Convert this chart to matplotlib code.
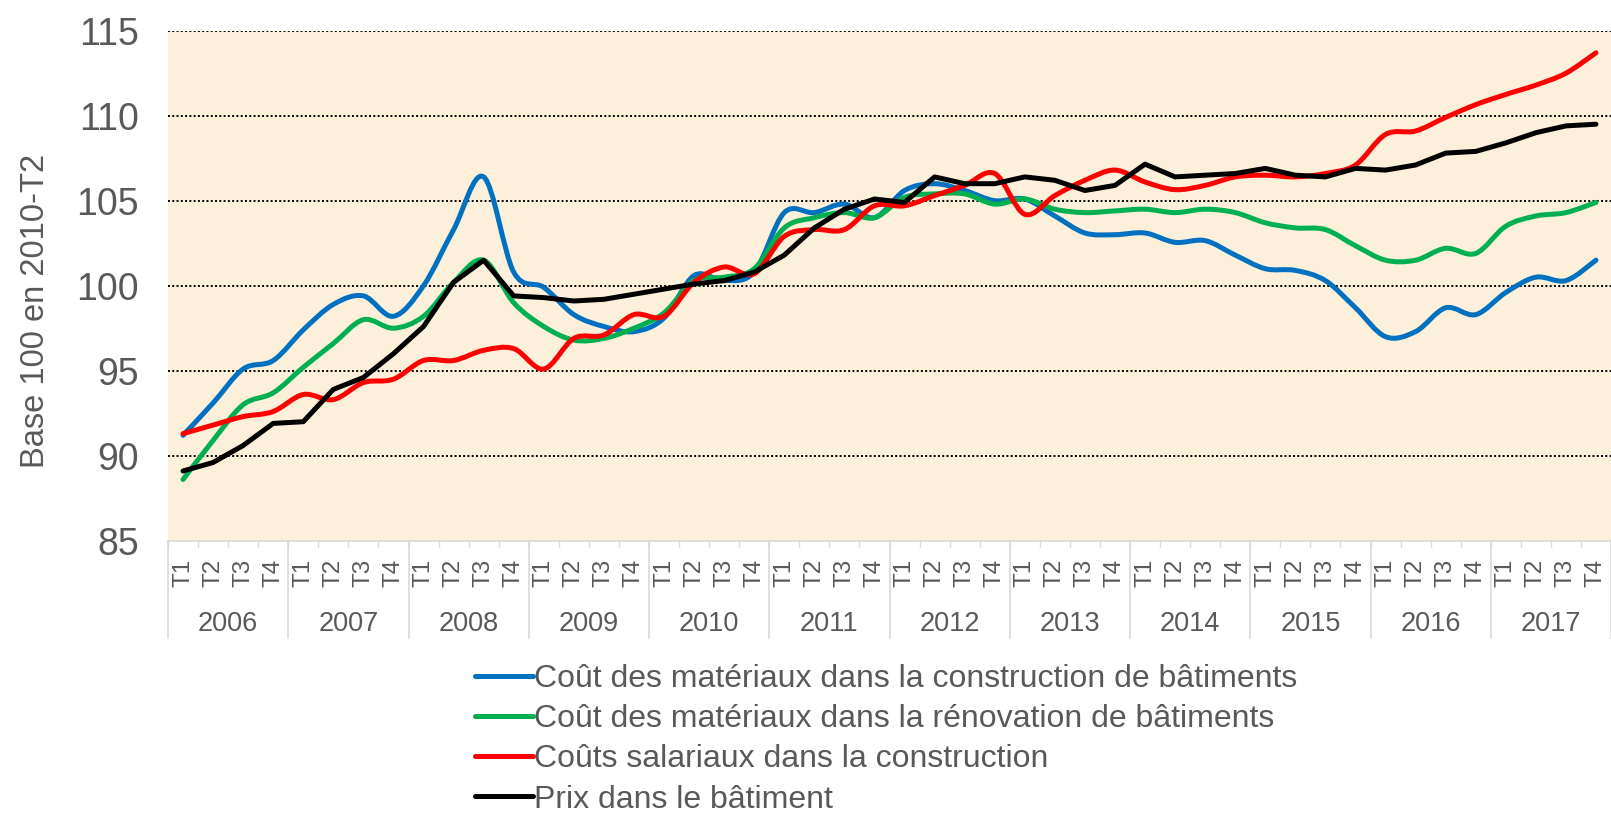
import numpy as np
import matplotlib
matplotlib.use("Agg")
import matplotlib.pyplot as plt
from matplotlib.path import Path
from matplotlib.patches import PathPatch
from matplotlib.lines import Line2D
import matplotlib.transforms as mtransforms

plt.rcParams['font.family'] = ['Liberation Sans', 'DejaVu Sans']

# données trimestrielles 2006-T1 .. 2017-T4 (base 100 en 2010-T2)
annees = [str(a) for a in range(2006, 2018)]
trimestres = ["T1", "T2", "T3", "T4"]

cout_construction = [91.2, 93.1, 95.1, 95.6, 97.4, 98.9, 99.4, 98.2, 100.0, 103.3, 106.4, 100.8,
                     99.9, 98.3, 97.6, 97.3, 98.1, 100.6, 100.3, 100.8, 104.3, 104.3, 104.8, 104.0,
                     105.6, 106.0, 105.6, 105.0, 105.1, 104.1, 103.1, 103.0, 103.1, 102.55, 102.65, 101.8,
                     101.0, 100.9, 100.3, 98.7, 97.0, 97.3, 98.7, 98.3, 99.6, 100.5, 100.3, 101.5]
cout_renovation = [88.6, 90.9, 93.0, 93.7, 95.2, 96.6, 98.0, 97.5, 98.2, 100.2, 101.5, 99.0,
                   97.6, 96.8, 96.9, 97.5, 98.4, 100.3, 100.5, 101.0, 103.4, 104.0, 104.3, 104.0,
                   105.2, 105.4, 105.4, 104.8, 105.1, 104.5, 104.3, 104.4, 104.5, 104.3, 104.5, 104.3,
                   103.7, 103.4, 103.3, 102.35, 101.5, 101.5, 102.2, 101.9, 103.5, 104.1, 104.3, 104.9]
couts_salariaux = [91.3, 91.8, 92.3, 92.6, 93.6, 93.3, 94.3, 94.5, 95.6, 95.6, 96.2, 96.3,
                   95.1, 96.9, 97.1, 98.3, 98.2, 100.2, 101.1, 100.7, 102.9, 103.3, 103.3, 104.7,
                   104.7, 105.3, 105.9, 106.6, 104.2, 105.3, 106.2, 106.8, 106.1, 105.65, 105.9, 106.4,
                   106.5, 106.4, 106.6, 107.1, 108.9, 109.1, 109.9, 110.65, 111.25, 111.8, 112.5, 113.7]
prix_batiment = [89.1, 89.6, 90.6, 91.9, 92.0, 93.9, 94.6, 96.0, 97.6, 100.2, 101.5, 99.4,
                 99.3, 99.1, 99.2, 99.5, 99.8, 100.1, 100.3, 100.8, 101.8, 103.4, 104.5, 105.1,
                 104.9, 106.4, 106.0, 106.0, 106.4, 106.2, 105.6, 105.9, 107.15, 106.4, 106.5, 106.6,
                 106.9, 106.5, 106.4, 106.9, 106.8, 107.1, 107.8, 107.9, 108.4, 109.0, 109.4, 109.5]

noms = ["Coût des matériaux dans la construction de bâtiments",
        "Coût des matériaux dans la rénovation de bâtiments",
        "Coûts salariaux dans la construction",
        "Prix dans le bâtiment"]
couleurs = ["#0070C0", "#00B050", "#FF0000", "#000000"]
gris = "#595959"


def courbe_lissee(ax, y, couleur, lw):
    """ trace lissé façon Excel (Bezier type Catmull-Rom) """
    x = np.arange(len(y), dtype=float)
    y = np.asarray(y, dtype=float)
    verts = [(x[0], y[0])]
    codes = [Path.MOVETO]
    n = len(y)
    for i in range(n - 1):
        x0, y0 = x[max(i - 1, 0)], y[max(i - 1, 0)]
        x3, y3 = x[min(i + 2, n - 1)], y[min(i + 2, n - 1)]
        c1 = (x[i] + (x[i + 1] - x0) / 6, y[i] + (y[i + 1] - y0) / 6)
        c2 = (x[i + 1] - (x3 - x[i]) / 6, y[i + 1] - (y3 - y[i]) / 6)
        verts += [c1, c2, (x[i + 1], y[i + 1])]
        codes += [Path.CURVE4] * 3
    patch = PathPatch(Path(verts, codes), fill=False, edgecolor=couleur, lw=lw,
                      capstyle='round', joinstyle='round', zorder=3)
    ax.add_patch(patch)


fig = plt.figure(figsize=(16.11, 8.13), dpi=100)
ax = fig.add_axes([168 / 1611, 1 - 540.7 / 813, 1 - 168 / 1611, (540.7 - 30.7) / 813])
ax.set_facecolor("#FCF0DA")

lw = 3.6
courbe_lissee(ax, cout_construction, couleurs[0], lw)
courbe_lissee(ax, cout_renovation, couleurs[1], lw)
courbe_lissee(ax, couts_salariaux, couleurs[2], lw)
ax.plot(np.arange(len(prix_batiment)), prix_batiment, color=couleurs[3], lw=lw,
        solid_capstyle='round', zorder=4)

n = len(annees) * len(trimestres)
ax.set_xlim(-0.5, n - 0.5)
ax.set_ylim(85, 115)
ax.set_yticks(np.arange(85, 116, 5))
ax.tick_params(axis='y', length=0, labelsize=27, labelcolor=gris, pad=21)
for v in range(90, 116, 5):
    ax.axhline(v, color="black", lw=1.4, ls=(0, (1, 1.2)), zorder=1)

for s in ["top", "right", "left"]:
    ax.spines[s].set_visible(False)
ax.spines["bottom"].set_color("#D9D9D9")
ax.spines["bottom"].set_linewidth(1.2)

ax.set_xticks(np.arange(n))
ax.set_xticklabels(trimestres * len(annees), rotation=90, fontsize=17.5, color=gris)
ax.tick_params(axis='x', length=0, pad=13)
ax.set_xticks(np.arange(n + 1) - 0.5, minor=True)
ax.tick_params(axis='x', which='minor', length=4, color="#D9D9D9", width=1)

trans = mtransforms.blended_transform_factory(ax.transData, ax.transAxes)
for k, a in enumerate(annees):
    ax.text(k * 4 + 1.5, -0.163, a, transform=trans, ha='center', va='center',
            fontsize=19.5, color=gris)
for k in range(len(annees) + 1):
    ax.plot([k * 4 - 0.5, k * 4 - 0.5], [0, -0.19], transform=trans, color="#D9D9D9",
            lw=1.2, clip_on=False)

ax.set_ylabel("Base 100 en 2010-T2", fontsize=23.5, color=gris, va='center')
ax.yaxis.set_label_coords(-0.0915, 0.45)

handles = [Line2D([], [], color=c, lw=lw, solid_capstyle='round') for c in couleurs]
fig.legend(handles, noms, loc='upper left', bbox_to_anchor=(475 / 1611, 1 - 664 / 813),
           frameon=False, fontsize=23, labelcolor=gris, handlelength=1.8,
           handletextpad=0.05, labelspacing=0.32, borderaxespad=0, borderpad=0)

fig.savefig("out.png", dpi=100)
